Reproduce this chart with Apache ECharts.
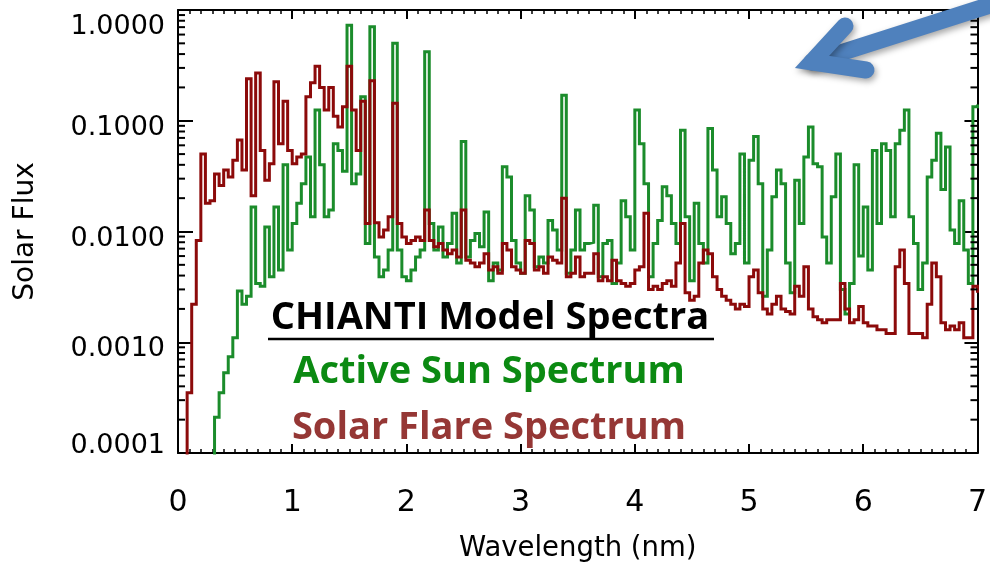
<!DOCTYPE html>
<html>
<head>
<meta charset="utf-8">
<title>CHIANTI Model Spectra</title>
<script src="https://cdn.jsdelivr.net/npm/echarts@6/dist/echarts.min.js"></script>
<style>
  html, body { margin: 0; padding: 0; background: #ffffff; }
  #chart { width: 990px; height: 571px; }
</style>
</head>
<body>
<div id="chart"></div>
<script>
// Wavelength grid (nm): one bin every 0.04 nm from 0 to 7
const waveStart = 0;
const waveStep = 0.04;
const waveMin = 0;
const waveMax = 7;

// Active Sun spectrum, flux per bin
const activeSun = [
  0.00005, 0.00005, 0.00005, 0.00005, 0.00005, 0.00005, 0.00005, 0.00008, 0.00021, 0.00035,
  0.00053, 0.00074, 0.0011, 0.0029, 0.0022, 0.0026, 0.0166, 0.0034, 0.0032, 0.011,
  0.0039, 0.0166, 0.0045, 0.04, 0.0068, 0.0118, 0.018, 0.027, 0.047, 0.0136,
  0.125, 0.04, 0.0136, 0.0156, 0.062, 0.054, 0.035, 0.73, 0.027, 0.033,
  0.165, 0.0078, 0.707, 0.0059, 0.0039, 0.0045, 0.0068, 0.5, 0.0068, 0.0039,
  0.0036, 0.0045, 0.0059, 0.0068, 0.42, 0.0118, 0.0068, 0.011, 0.0059, 0.0078,
  0.0146, 0.0052, 0.065, 0.0059, 0.0083, 0.0096, 0.0073, 0.015, 0.0036, 0.0052,
  0.0045, 0.0385, 0.031, 0.0083, 0.0052, 0.0042, 0.021, 0.0156, 0.0048, 0.0059,
  0.0052, 0.0126, 0.0103, 0.0068, 0.17, 0.0042, 0.0068, 0.0156, 0.0068, 0.0078,
  0.008, 0.0173, 0.0039, 0.0078, 0.0083, 0.0034, 0.0052, 0.019, 0.0136, 0.0068,
  0.125, 0.062, 0.027, 0.0039, 0.0078, 0.0126, 0.0253, 0.021, 0.0118, 0.0078,
  0.082, 0.0136, 0.0036, 0.018, 0.0078, 0.0052, 0.085, 0.036, 0.0136, 0.0206,
  0.0118, 0.0063, 0.0078, 0.05, 0.0052, 0.044, 0.072, 0.027, 0.0026, 0.0068,
  0.0206, 0.036, 0.027, 0.0052, 0.0028, 0.029, 0.0118, 0.047, 0.088, 0.041,
  0.0385, 0.0089, 0.0052, 0.0206, 0.05, 0.003, 0.0018, 0.0034, 0.04, 0.006,
  0.0166, 0.0045, 0.054, 0.0118, 0.062, 0.054, 0.0136, 0.062, 0.082, 0.125,
  0.0136, 0.0078, 0.003, 0.0052, 0.031, 0.044, 0.077, 0.024, 0.058, 0.0103,
  0.0078, 0.019, 0.0068, 0.0034, 0.134, 0.14
];

// Solar flare spectrum, flux per bin
const solarFlare = [
  0.00005, 0.00005, 0.00035, 0.0022, 0.0083, 0.05, 0.018, 0.019, 0.033, 0.026,
  0.036, 0.031, 0.044, 0.067, 0.036, 0.24, 0.021, 0.27, 0.054, 0.029,
  0.041, 0.225, 0.062, 0.15, 0.054, 0.041, 0.047, 0.05, 0.165, 0.22,
  0.31, 0.2, 0.125, 0.2, 0.11, 0.088, 0.134, 0.31, 0.125, 0.054,
  0.15, 0.0118, 0.23, 0.012, 0.0089, 0.0103, 0.0136, 0.144, 0.0118, 0.0089,
  0.0078, 0.0083, 0.0089, 0.0083, 0.0156, 0.0083, 0.0073, 0.0078, 0.0068, 0.0063,
  0.0068, 0.0059, 0.0156, 0.0055, 0.0052, 0.0048, 0.0052, 0.0063, 0.0045, 0.0048,
  0.0042, 0.0078, 0.0068, 0.0048, 0.0045, 0.0042, 0.0083, 0.0078, 0.0045, 0.0048,
  0.0042, 0.0059, 0.0055, 0.0052, 0.02, 0.0039, 0.0042, 0.0059, 0.0039, 0.0042,
  0.0042, 0.0063, 0.0036, 0.0039, 0.0036, 0.0055, 0.0036, 0.0034, 0.0032, 0.0034,
  0.0045, 0.0048, 0.0146, 0.003, 0.0032, 0.003, 0.0034, 0.0036, 0.0032, 0.0052,
  0.0118, 0.0028, 0.0024, 0.0026, 0.0052, 0.0068, 0.0063, 0.0039, 0.003, 0.0026,
  0.0024, 0.0022, 0.002, 0.0022, 0.0021, 0.0039, 0.0045, 0.0028, 0.002, 0.0018,
  0.0022, 0.0026, 0.002, 0.0019, 0.0018, 0.0032, 0.0026, 0.0048, 0.002, 0.0017,
  0.0016, 0.0015, 0.0016, 0.0016, 0.0016, 0.0034, 0.002, 0.0015, 0.0016, 0.0021,
  0.0015, 0.0014, 0.0014, 0.0013, 0.0013, 0.0012, 0.0012, 0.0048, 0.0068, 0.0034,
  0.0012, 0.0012, 0.0012, 0.0011, 0.0022, 0.0052, 0.0039, 0.0015, 0.0013, 0.0014,
  0.0013, 0.0015, 0.0011, 0.0011, 0.0032, 0.0028
];

// Axis ticks
const xTickLabels = ['0', '1', '2', '3', '4', '5', '6', '7'];
const yTicks = [0.0001, 0.001, 0.01, 0.1, 1];
const yTickLabels = ['0.0001', '0.0010', '0.0100', '0.1000', '1.0000'];
const yMin = 0.0001;
const yMax = 1;

// Log minor ticks (2..9 within every decade)
const yMinorTicks = [];
for (let d = 0; d < yTicks.length - 1; d++) {
  for (let m = 2; m <= 9; m++) yMinorTicks.push(+(yTicks[d] * m).toPrecision(3));
}

const wavelengths = activeSun.map((_, i) => +(waveStart + i * waveStep).toFixed(2));
const toPairs = vals => vals.map((v, i) => [wavelengths[i], v]);

const AXIS_FONT = 'DejaVu Sans';
const NOTE_FONT = 'Open Sans';
const GREEN = '#1b8c2b';
const RED = '#8c0a0a';
const ARROW = '#4f81bd';

function yLabel(v) {
  let best = 0;
  for (let i = 1; i < yTicks.length; i++) {
    if (Math.abs(Math.log10(yTicks[i]) - Math.log10(v)) < Math.abs(Math.log10(yTicks[best]) - Math.log10(v))) best = i;
  }
  const txt = yTickLabels[best];
  if (best === yTicks.length - 1) return '{hi|' + txt + '}';
  if (best === 0) return '{lo|' + txt + '}';
  return '{mid|' + txt + '}';
}

const tickLine = { show: true, inside: true, lineStyle: { color: '#000', width: 2 } };
const frameLine = { show: true, onZero: false, lineStyle: { color: '#000', width: 2 } };
const arrowStyle = {
  stroke: ARROW, lineWidth: 17, lineJoin: 'miter', lineCap: 'round', fill: null,
  shadowBlur: 6, shadowColor: 'rgba(0,0,0,0.35)', shadowOffsetX: 2, shadowOffsetY: 3
};

const chart = echarts.init(document.getElementById('chart'), null, { renderer: 'canvas' });

chart.setOption({
  animation: false,
  backgroundColor: '#ffffff',
  grid: { left: 178, right: 7, top: 10, bottom: 118, containLabel: false },
  xAxis: [
    {
      type: 'value', min: waveMin, max: waveMax, interval: 1, position: 'bottom',
      axisLine: frameLine,
      axisTick: Object.assign({}, tickLine, { length: 9 }),
      minorTick: { show: true, splitNumber: 10, length: 4, lineStyle: { color: '#000', width: 1.5 } },
      splitLine: { show: false },
      axisLabel: {
        color: '#000', fontFamily: AXIS_FONT, fontSize: 30, margin: 35,
        formatter: v => xTickLabels[Math.round(v)]
      },
      name: 'Wavelength (nm)', nameLocation: 'middle', nameGap: 82,
      nameTextStyle: { color: '#000', fontFamily: AXIS_FONT, fontSize: 27.5 }
    },
    {
      type: 'value', min: waveMin, max: waveMax, interval: 1, position: 'top',
      axisLine: frameLine,
      axisTick: Object.assign({}, tickLine, { length: 9 }),
      minorTick: { show: true, splitNumber: 10, length: 4, lineStyle: { color: '#000', width: 1.5 } },
      splitLine: { show: false },
      axisLabel: { show: false }
    }
  ],
  yAxis: [
    {
      type: 'log', logBase: 10, min: yMin, max: yMax, position: 'left',
      axisLine: frameLine,
      axisTick: Object.assign({}, tickLine, { length: 15 }),
      splitLine: { show: false },
      axisLabel: {
        color: '#000', fontFamily: AXIS_FONT, fontSize: 27, margin: 13,
        formatter: yLabel,
        rich: {
          mid: { fontFamily: AXIS_FONT, fontSize: 27, color: '#000', padding: [14, 0, 0, 0] },
          hi: { fontFamily: AXIS_FONT, fontSize: 27, color: '#000', padding: [33, 0, 0, 0] },
          lo: { fontFamily: AXIS_FONT, fontSize: 27, color: '#000', padding: [0, 0, 14, 0] }
        }
      },
      name: 'Solar Flux', nameLocation: 'middle', nameGap: 138, nameRotate: 90,
      nameTextStyle: { color: '#000', fontFamily: AXIS_FONT, fontSize: 28 }
    },
    {
      type: 'log', logBase: 10, min: yMin, max: yMax, position: 'right',
      axisLine: frameLine,
      axisTick: Object.assign({}, tickLine, { length: 13 }),
      splitLine: { show: false },
      axisLabel: { show: false }
    }
  ],
  series: [
    {
      name: 'Active Sun Spectrum', type: 'line', step: 'end', showSymbol: false, symbol: 'none',
      xAxisIndex: 0, yAxisIndex: 0, clip: true, z: 2,
      lineStyle: { color: GREEN, width: 3, join: 'miter' },
      data: toPairs(activeSun)
    },
    {
      name: 'Solar Flare Spectrum', type: 'line', step: 'end', showSymbol: false, symbol: 'none',
      xAxisIndex: 0, yAxisIndex: 0, clip: true, z: 3,
      lineStyle: { color: RED, width: 3, join: 'miter' },
      data: toPairs(solarFlare)
    },
    {
      // minor ticks of the logarithmic flux axes, left and right frame
      name: 'minorTicks', type: 'custom', xAxisIndex: 0, yAxisIndex: 0, silent: true, z: 6,
      data: yMinorTicks.map(v => [waveMin, v]),
      renderItem: (params, api) => {
        const v = api.value(1);
        const l = api.coord([waveMin, v]);
        const r = api.coord([waveMax, v]);
        const st = { stroke: '#000', lineWidth: 2 };
        return {
          type: 'group',
          children: [
            { type: 'line', shape: { x1: l[0], y1: l[1], x2: l[0] + 7, y2: l[1] }, style: st },
            { type: 'line', shape: { x1: r[0], y1: r[1], x2: r[0] - 7, y2: r[1] }, style: st }
          ]
        };
      }
    }
  ],
  graphic: [
    {
      type: 'text', z: 100,
      style: { text: 'CHIANTI Model Spectra', x: 490, y: 318, align: 'center', verticalAlign: 'middle',
               fontFamily: NOTE_FONT, fontWeight: 'bold', fontSize: 38, fill: '#000' }
    },
    {
      type: 'line', z: 100,
      shape: { x1: 268, y1: 339, x2: 714, y2: 339 },
      style: { stroke: '#000', lineWidth: 2.5 }
    },
    {
      type: 'text', z: 100,
      style: { text: 'Active Sun Spectrum', x: 489, y: 372, align: 'center', verticalAlign: 'middle',
               fontFamily: NOTE_FONT, fontWeight: 'bold', fontSize: 38, fill: '#0b8a12' }
    },
    {
      type: 'text', z: 100,
      style: { text: 'Solar Flare Spectrum', x: 489, y: 428, align: 'center', verticalAlign: 'middle',
               fontFamily: NOTE_FONT, fontWeight: 'bold', fontSize: 38, fill: '#953735' }
    },
    {
      // callout arrow in the upper right: shaft, then open head
      type: 'line', z: 110,
      shape: { x1: 812, y1: 62, x2: 1000, y2: 2 },
      style: arrowStyle
    },
    {
      type: 'polyline', z: 111,
      shape: { points: [[845, 26], [812, 62], [866, 70]] },
      style: arrowStyle
    }
  ]
});
</script>
</body>
</html>
